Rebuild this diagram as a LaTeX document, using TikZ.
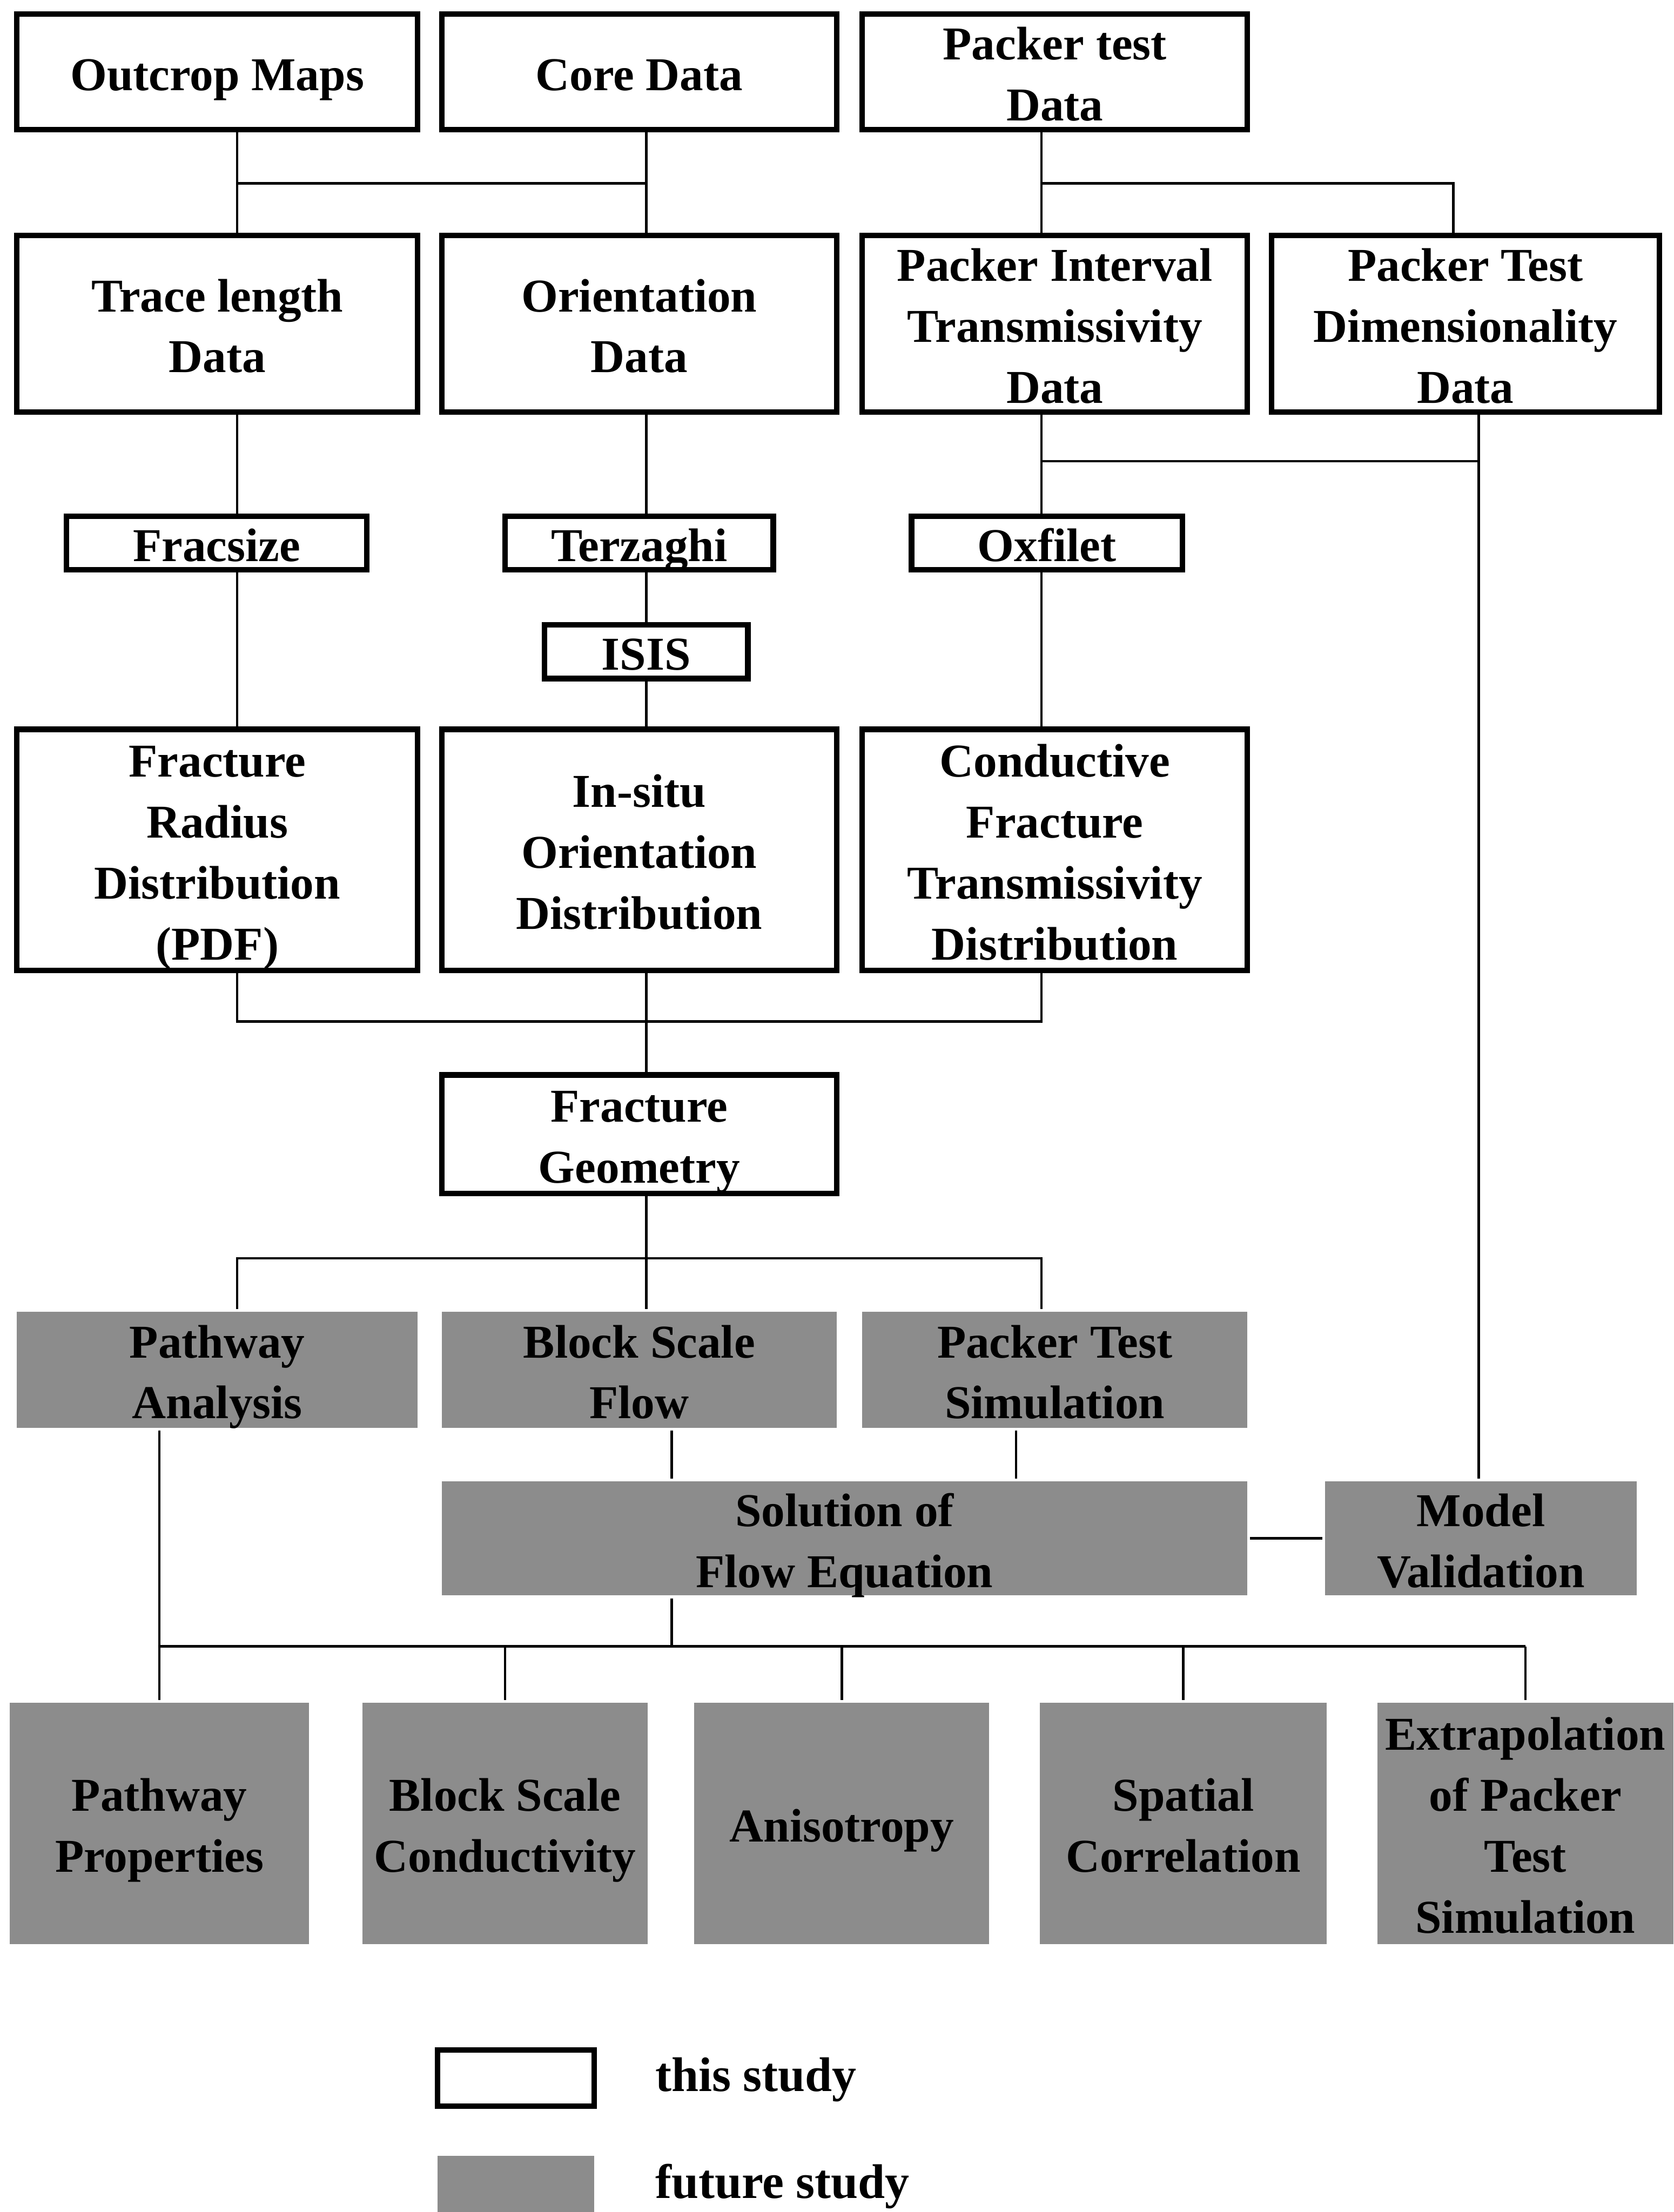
\documentclass[tikz,border=0pt]{standalone}
\usepackage{fontspec}
\setmainfont{Liberation Serif}
\newcommand{\boxstrut}{\rule[-0.25em]{0pt}{1.28em}}

\begin{document}
\begin{tikzpicture}
\tikzset{box/.style = {shape=rectangle,draw,line width=1.1pt,fill=white,inner xsep=0pt,inner ysep=-0.5cm,align=center,font=\bfseries\fontsize{9.5}{12.3}\selectfont}}
\tikzset{future/.style = {box,draw=none,fill=black!45}}
\tikzset{link/.style = {line width=0.5pt}}

\useasboundingbox (0,0) rectangle (11.86,-15.68);

% this study
\foreach \pos/\name/\w/\h/\txt in {{(1.54,-0.51)/outcrop/2.84/0.82/Outcrop Maps}, {(4.53,-0.51)/core/2.80/0.82/Core Data}, {(7.475,-0.51)/packer/2.73/0.82/{Packer test\\Data}},
{(1.54,-2.295)/trace/2.84/1.25/{Trace length\\Data}}, {(4.53,-2.295)/orient/2.80/1.25/{Orientation\\Data}}, {(7.475,-2.295)/interval/2.73/1.25/{Packer Interval\\Transmissivity\\Data}}, {(10.385,-2.295)/dimen/2.75/1.25/{Packer Test\\Dimensionality\\Data}},
{(1.535,-3.85)/fracsize/2.13/0.38/Fracsize}, {(4.53,-3.85)/terzaghi/1.90/0.38/Terzaghi}, {(7.42,-3.85)/oxfilet/1.92/0.38/Oxfilet}, {(4.58,-4.62)/isis/1.44/0.38/ISIS},
{(1.54,-6.025)/radius/2.84/1.71/{Fracture\\Radius\\Distribution\\(PDF)}}, {(4.53,-6.025)/insitu/2.80/1.71/{In-situ\\Orientation\\Distribution}}, {(7.475,-6.025)/conductive/2.73/1.71/{Conductive\\Fracture\\Transmissivity\\Distribution}},
{(4.53,-8.04)/geometry/2.80/0.84/{Fracture\\Geometry}}}
\node[box,minimum width=\w cm,minimum height=\h cm] (\name) at \pos {\boxstrut\txt\boxstrut};

% future study
\foreach \pos/\name/\w/\h/\txt in {{(1.54,-9.71)/pathway/2.84/0.82/{Pathway\\Analysis}}, {(4.53,-9.71)/blockflow/2.80/0.82/{Block Scale\\Flow}}, {(7.475,-9.71)/simul/2.73/0.82/{Packer Test\\Simulation}},
{(5.985,-10.905)/solution/5.71/0.81/{Solution of\\Flow Equation}}, {(10.495,-10.905)/model/2.21/0.81/{Model\\Validation}},
{(1.13,-12.925)/props/2.12/1.71/{Pathway\\Properties}}, {(3.58,-12.925)/conduct/2.02/1.71/{Block Scale\\Conductivity}}, {(5.965,-12.925)/aniso/2.09/1.71/Anisotropy}, {(8.385,-12.925)/spatial/2.03/1.71/{Spatial\\Correlation}}, {(10.81,-12.925)/extrap/2.10/1.71/{Extrapolation\\of Packer\\Test\\Simulation}}}
\node[future,minimum width=\w cm,minimum height=\h cm] (\name) at \pos {\boxstrut\txt\boxstrut};

% junctions
\coordinate (a1) at (1.68,-1.30);
\coordinate (a2) at (4.58,-1.30);
\coordinate (b1) at (7.38,-1.30);
\coordinate (b2) at (10.30,-1.30);
\coordinate (d1) at (7.38,-3.27);
\coordinate (d2) at (10.48,-3.27);
\coordinate (e1) at (1.68,-7.24);
\coordinate (e2) at (7.38,-7.24);
\coordinate (f1) at (1.68,-8.92);
\coordinate (f3) at (7.38,-8.92);
\coordinate (g1) at (1.13,-11.67);
\coordinate (g2) at (4.76,-11.67);
\coordinate (s1) at (7.20,-10.30);

\draw[link] (outcrop.south -| a1) -- (trace.north -| a1);
\draw[link] (core.south -| a2) -- (orient.north -| a2);
\draw[link] (a1) -- (a2);
\draw[link] (packer.south -| b1) -- (interval.north -| b1);
\draw[link] (b1) -- (b2) -- (dimen.north -| b2);
\draw[link] (d1) -- (d2);

\foreach \from/\to/\col in {trace/fracsize/a1, fracsize/radius/a1, orient/terzaghi/a2, terzaghi/isis/a2, isis/insitu/a2, interval/oxfilet/b1, oxfilet/conductive/b1, insitu/geometry/a2, geometry/blockflow/a2, blockflow/solution/g2, simul/solution/s1, dimen/model/d2}
\draw[link] (\from.south -| \col) -- (\to.north -| \col);

\draw[link] (radius.south -| e1) -- (e1) -- (e2) -- (conductive.south -| e2);
\draw[link] (pathway.north -| f1) -- (f1) -- (f3) -- (simul.north -| f3);
\draw[link] (pathway.south -| g1) -- (g1) -- (extrap.north |- g1);
\draw[link] (solution.south -| g2) -- (g2);
\draw[link] (solution.east) -- (model.west);

\foreach \to in {props, conduct, aniso, spatial, extrap}
\draw[link] (\to.north |- g1) -- (\to.north);

% legend
\node[box,minimum width=1.11cm,minimum height=0.40cm] (keyold) at (3.655,-14.73) {};
\node[future,minimum width=1.11cm,minimum height=0.40cm] (keynew) at (3.655,-15.48) {};
\node[anchor=west,font=\bfseries\fontsize{9.8}{12}\selectfont] (oldtxt) at (4.52,-14.74) {this study};
\node[anchor=west,font=\bfseries\fontsize{9.8}{12}\selectfont] (newtxt) at (4.52,-15.50) {future study};

\end{tikzpicture}
\end{document}
